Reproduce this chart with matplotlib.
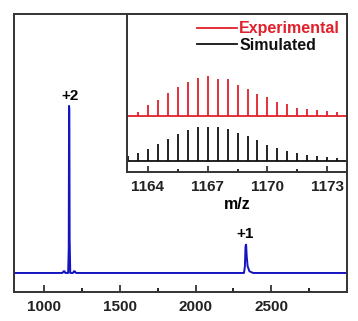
import numpy as np
import matplotlib.pyplot as plt

plt.rcParams['font.family'] = ['Liberation Sans', 'DejaVu Sans']
plt.rcParams['font.weight'] = 'bold'

# full spectrum as (m/z, relative intensity) points
ms_mz = [800, 1120, 1128, 1134, 1140, 1158, 1162, 1164, 1166, 1168, 1172, 1190, 1196, 1202, 1210,
         2310, 2320, 2326, 2330, 2334, 2338, 2344, 2356, 2380, 3000]
ms_int = [0, 0, 0.01, 0.01, 0, 0, 0.15, 1.0, 0.98, 0.2, 0, 0, 0.01, 0.01, 0,
          0, 0, 0.04, 0.16, 0.17, 0.1, 0.04, 0.01, 0, 0]

# isotope pattern of the +2 ion (relative intensity, %)
iso_mz_exp = [1163.5, 1164, 1164.5, 1165, 1165.5, 1166, 1166.5, 1167, 1167.5, 1168, 1168.5,
              1169, 1169.5, 1170, 1170.5, 1171, 1171.5, 1172, 1172.5, 1173, 1173.5]
iso_exp = [9, 28, 39, 58, 72, 84, 94, 100, 92, 92, 77, 68, 55, 48, 34, 29, 20, 18, 15, 13, 11]
iso_mz_sim = [1163, 1163.5, 1164, 1164.5, 1165, 1165.5, 1166, 1166.5, 1167, 1167.5, 1168,
              1168.5, 1169, 1169.5, 1170, 1170.5, 1171, 1171.5, 1172, 1172.5, 1173, 1173.5]
iso_sim = [14, 24, 36, 49, 66, 81, 92, 100, 100, 100, 94, 83, 73, 61, 47, 39, 31, 24, 19, 15, 12, 8]

labels = ['+2', '+1']
label_mz = [1168, 2330]

fig = plt.figure(figsize=(3.58, 3.21), dpi=100)
ax = fig.add_axes([0.039, 0.0903, 0.930, 0.866])
ax.plot(ms_mz, ms_int, color='#1414c0', lw=1.4)
ax.set_xlim(800, 3000)
ax.set_ylim(-0.114, 1.55)
ax.set_yticks([])
ax.set_xticks([1000, 1500, 2000, 2500])
ax.set_xticks([1250, 1750, 2250, 2750], minor=True)
ax.tick_params(axis='x', direction='in', length=5, width=1.2, labelsize=11, pad=6, colors='#222222')
ax.tick_params(axis='x', which='minor', direction='in', length=3, width=1.2)
for s in ax.spines.values():
    s.set_linewidth(1.4)
    s.set_color('#333333')
ax.text(label_mz[0], 1.02, labels[0], ha='center', va='bottom', fontsize=11, fontweight='bold')
ax.text(label_mz[1], 0.19, labels[1], ha='center', va='bottom', fontsize=11, fontweight='bold')

# inset
ins = fig.add_axes([0.355, 0.464, 0.6145, 0.492])
off = 45
ins.vlines(iso_mz_exp, off, off + np.array(iso_exp) * 0.40, color='#e0202a', lw=1.3)
ins.axhline(off, color='#e0202a', lw=1.3)
ins.vlines(iso_mz_sim, 0, np.array(iso_sim) * 0.34, color='#111111', lw=1.3)
ins.axhline(0, color='#111111', lw=1.3)
ins.plot([], [], color='#e0202a', lw=1.3, label='Experimental')
ins.plot([], [], color='#111111', lw=1.3, label='Simulated')
ins.set_xlim(1162.95, 1174)
ins.set_ylim(-11, 147)
ins.set_yticks([])
ins.set_xticks([1164, 1167, 1170, 1173])
ins.set_xticks([1165.5, 1168.5, 1171.5], minor=True)
ins.tick_params(axis='x', direction='in', length=4, width=1.2, labelsize=11, pad=6, colors='#222222')
ins.tick_params(axis='x', which='minor', direction='in', length=2, width=1.2)
ins.set_xlabel('m/z', fontsize=11.5, fontweight='bold', labelpad=2)
for s in ins.spines.values():
    s.set_linewidth(1.4)
    s.set_color('#333333')
leg = ins.legend(loc='upper right', frameon=False, fontsize=11.5, handlelength=2.5,
                 handletextpad=0.1, labelspacing=0.1, borderaxespad=0.05, labelcolor='linecolor')
for t in leg.get_texts():
    t.set_fontweight('bold')

fig.savefig('out.png', dpi=100)
